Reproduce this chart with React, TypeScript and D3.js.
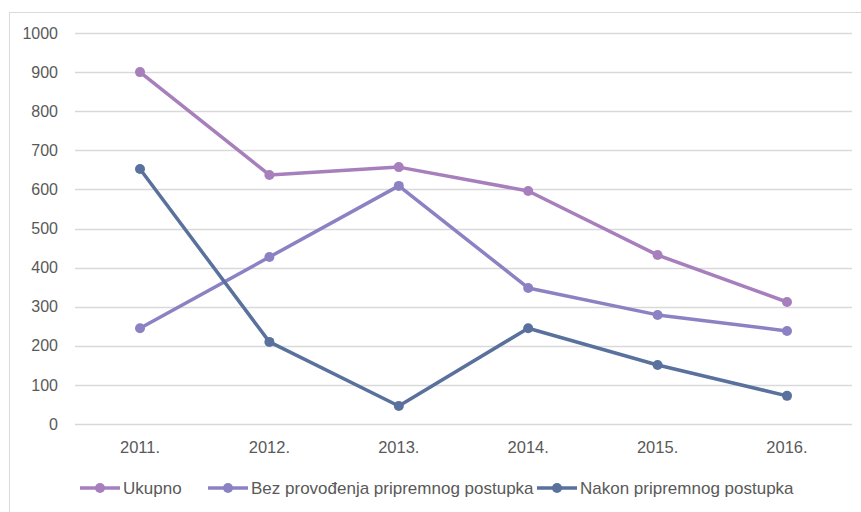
import { useEffect, useRef } from 'react';
import * as d3 from 'd3';

const years = ['2011.', '2012.', '2013.', '2014.', '2015.', '2016.'];
const ukupno = [900, 637, 657, 596, 432, 312];
const bezProvodjenja = [245, 427, 609, 348, 279, 238];
const nakonPripremnog = [652, 210, 46, 245, 151, 72];
const yTicks = [0, 100, 200, 300, 400, 500, 600, 700, 800, 900, 1000];

const seriesNames = ['Ukupno', 'Bez provođenja pripremnog postupka', 'Nakon pripremnog postupka'];
const seriesColors = ['#a67fbc', '#8b82c4', '#59719c'];

const App = () => {
  const svgRef = useRef<SVGSVGElement>(null);

  useEffect(() => {
    const svg = d3.select(svgRef.current);
    svg.selectAll('*').remove();
    const font = 'Liberation Sans, Arial, sans-serif';

    svg
      .append('rect')
      .attr('x', 9.5)
      .attr('y', 12.5)
      .attr('width', 860)
      .attr('height', 510)
      .attr('fill', 'white')
      .attr('stroke', '#d9d9d9');

    const x = d3.scalePoint().domain(years).range([140, 787]);
    const y = d3.scaleLinear().domain([0, 1000]).range([424, 33]);

    svg
      .append('g')
      .selectAll('line')
      .data(yTicks)
      .enter()
      .append('line')
      .attr('x1', 75)
      .attr('x2', 852)
      .attr('y1', (d) => Math.round(y(d)) + 0.5)
      .attr('y2', (d) => Math.round(y(d)) + 0.5)
      .attr('stroke', '#d9d9d9')
      .attr('stroke-width', 1.3);

    svg
      .append('g')
      .selectAll('text')
      .data(yTicks)
      .enter()
      .append('text')
      .attr('x', 58)
      .attr('y', (d) => y(d))
      .attr('dy', '0.35em')
      .attr('text-anchor', 'end')
      .style('font-family', font)
      .style('font-size', '16px')
      .attr('fill', '#595959')
      .text((d) => d);

    svg
      .append('g')
      .selectAll('text')
      .data(years)
      .enter()
      .append('text')
      .attr('x', (d) => x(d)!)
      .attr('y', 447)
      .attr('dy', '0.35em')
      .attr('text-anchor', 'middle')
      .style('font-family', font)
      .style('font-size', '16.5px')
      .attr('fill', '#595959')
      .text((d) => d);

    const allSeries = [ukupno, bezProvodjenja, nakonPripremnog];
    const line = d3
      .line<number>()
      .x((_, i) => x(years[i])!)
      .y((d) => y(d));

    allSeries.forEach((vals, si) => {
      const g = svg.append('g');
      g.append('path')
        .attr('d', line(vals)!)
        .attr('fill', 'none')
        .attr('stroke', seriesColors[si])
        .attr('stroke-width', 3.5)
        .attr('stroke-linejoin', 'round');
      g.selectAll('circle')
        .data(vals)
        .enter()
        .append('circle')
        .attr('cx', (_, i) => x(years[i])!)
        .attr('cy', (d) => y(d))
        .attr('r', 5)
        .attr('fill', seriesColors[si]);
    });

    const legendX = [80, 208, 537];
    const legend = svg.append('g');
    seriesNames.forEach((name, i) => {
      const lx = legendX[i];
      legend
        .append('line')
        .attr('x1', lx)
        .attr('x2', lx + 40)
        .attr('y1', 488)
        .attr('y2', 488)
        .attr('stroke', seriesColors[i])
        .attr('stroke-width', 3.5);
      legend.append('circle').attr('cx', lx + 20).attr('cy', 488).attr('r', 5).attr('fill', seriesColors[i]);
      legend
        .append('text')
        .attr('x', lx + 43)
        .attr('y', 488)
        .attr('dy', '0.35em')
        .style('font-family', font)
        .style('font-size', '17px')
        .attr('fill', '#595959')
        .text(name);
    });
  }, []);

  return <svg ref={svgRef} width={861} height={512} style={{ position: 'absolute', left: 0, top: 0 }} />;
};

export default App;
